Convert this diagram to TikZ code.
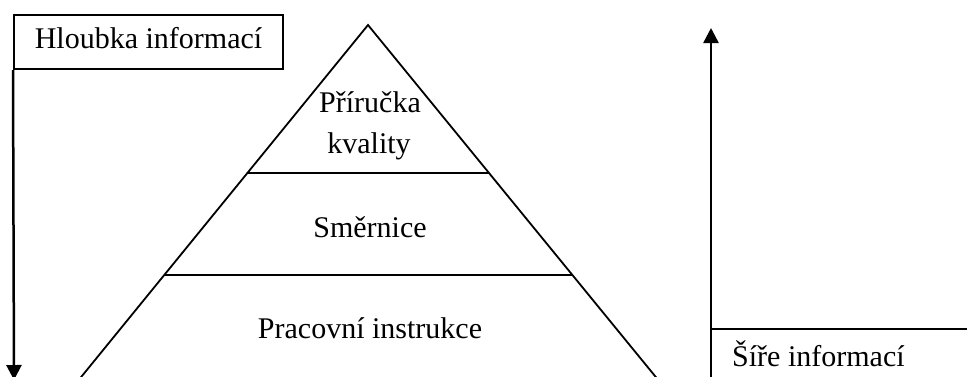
\documentclass[tikz,border=0pt]{standalone}
\usepackage{fontspec}
\setmainfont{Liberation Serif}
\usetikzlibrary{arrows.meta,calc}
\begin{document}
\begin{tikzpicture}[x=1pt,y=-1pt,
  lbl/.style={font=\fontsize{30}{36}\selectfont, inner sep=0pt, anchor=base},
  axisline/.style={line width=2.5pt},
  pyr/.style={line width=1.8pt},
  headtip/.style={-{Triangle[length=15pt,width=15pt]}}]
\clip (0,0) rectangle (967,376);
\fill[white] (0,0) rectangle (967,376);
% pyramid
\coordinate (apex) at (368,25);
\coordinate (bl) at (62.4,400);
\coordinate (br) at (674.6,400);
\draw[pyr, line join=miter] (bl) -- (apex) -- (br);
\coordinate (l1) at ($(apex)!0.3947!(bl)$);
\coordinate (r1) at ($(apex)!0.3947!(br)$);
\coordinate (l2) at ($(apex)!0.6667!(bl)$);
\coordinate (r2) at ($(apex)!0.6667!(br)$);
\draw[pyr] (l1) -- (r1);
\draw[pyr] (l2) -- (r2);
\node[lbl] (t1) at (370,112) {Příručka};
\node[lbl] (t2) at (369,153) {kvality};
\node[lbl] (t3) at (370,237) {Směrnice};
\node[lbl] (t4) at (370,338) {Pracovní instrukce};
% depth box and arrow
\node[draw, line width=2pt, minimum width=269pt, minimum height=54pt, inner sep=0pt,
      font=\fontsize{30}{36}\selectfont, text height=20pt, text depth=7pt] (hb) at (148.5,42) {Hloubka informací};
\coordinate (dbot) at (14,380);
\draw[axisline, headtip] (hb.south west) -- (dbot);
% width axis
\coordinate (o) at (711,380);
\coordinate (ytop) at (711,28);
\draw[axisline, headtip] (o) -- (ytop);
\coordinate (hx0) at (711,329);
\coordinate (hx1) at (967,329);
\draw[line width=1.8pt] (hx0) -- (hx1);
\node[lbl, anchor=base west] (sw) at (732,366) {Šíře informací};
\end{tikzpicture}
\end{document}
